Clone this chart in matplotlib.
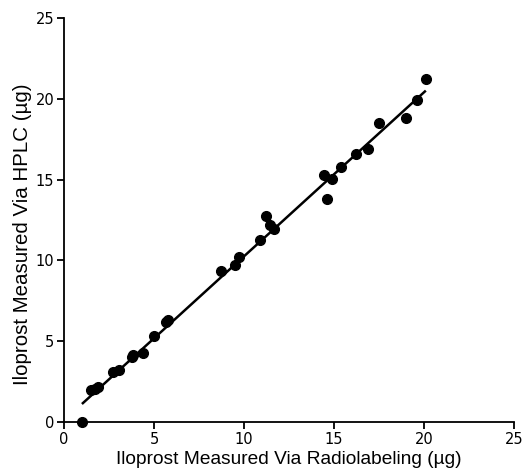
import matplotlib
matplotlib.use("Agg")
import matplotlib.pyplot as plt
import numpy as np

# Data
radiolabel = [1.0, 1.5, 1.7, 1.9, 2.75, 3.05, 3.8, 3.85, 4.4, 5.0, 5.65, 5.8,
              8.75, 9.5, 9.7, 10.9, 11.25, 11.45, 11.65, 14.45, 14.6, 14.9,
              15.4, 16.2, 16.9, 17.5, 19.0, 19.6, 20.1]
hplc = [0.0, 1.95, 2.05, 2.15, 3.1, 3.2, 4.0, 4.15, 4.3, 5.3, 6.2, 6.3,
        9.35, 9.7, 10.2, 11.25, 12.75, 12.2, 11.95, 15.3, 13.8, 15.05,
        15.8, 16.6, 16.9, 18.5, 18.8, 19.9, 21.2]
fit_slope = 1.015
fit_intercept = 0.10
ticks = [0, 5, 10, 15, 20, 25]

fig = plt.figure(figsize=(5.24, 4.71), dpi=100)
ax = fig.add_axes([0.122, 0.104, 0.859, 0.858])

xs = np.array([min(radiolabel), max(radiolabel)])
ax.plot(xs, fit_slope * xs + fit_intercept, color="black", lw=1.8, zorder=2,
        solid_capstyle="butt")
ax.plot(radiolabel, hplc, "o", color="black", ms=7, zorder=3, clip_on=False)

ax.set_xlim(0, 25)
ax.set_ylim(0, 25)
ax.set_xticks(ticks)
ax.set_yticks(ticks)
for s in ["top", "right"]:
    ax.spines[s].set_visible(False)
for s in ["left", "bottom"]:
    ax.spines[s].set_linewidth(1.3)
ax.tick_params(direction="out", length=5, width=1.3, labelsize=10.5, pad=2)
for lab in ax.get_xticklabels() + ax.get_yticklabels():
    lab.set_fontfamily("DejaVu Sans")

ax.set_xlabel("Iloprost Measured Via Radiolabeling (µg)", fontsize=13.8,
              family="Liberation Sans", labelpad=3)
ax.set_ylabel("Iloprost Measured Via HPLC (µg)", fontsize=14.8,
              family="Liberation Sans")
ax.yaxis.set_label_coords(-0.072, 0.465)

fig.savefig("out.png", dpi=100)
